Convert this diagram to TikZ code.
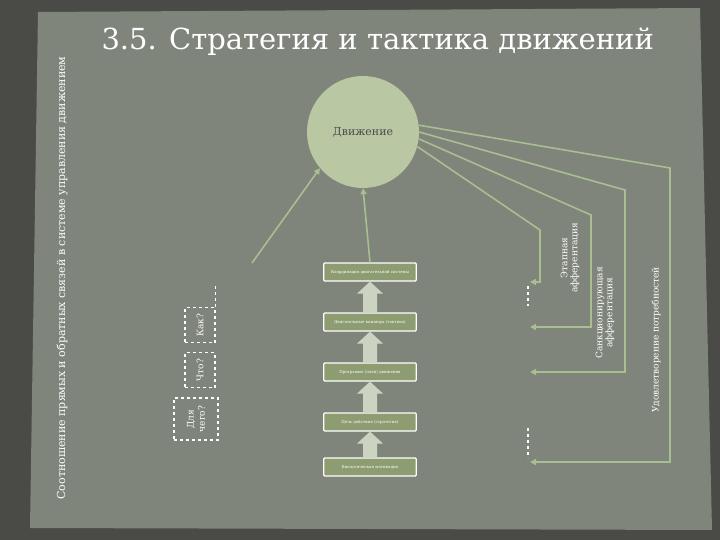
\documentclass[tikz,border=0pt]{standalone}
\usepackage{fontspec}
\setmainfont{DejaVu Serif}
\usetikzlibrary{arrows.meta,calc}
\definecolor{bgd}{HTML}{4A4B47}
\definecolor{pan}{HTML}{80857C}
\definecolor{cir}{HTML}{B9C7A3}
\definecolor{lin}{HTML}{A9BE91}
\definecolor{boxf}{HTML}{8E9C72}
\definecolor{arw}{HTML}{CBD4C0}
\tikzset{
 bx/.style={draw=white,line width=1.2pt,fill=boxf,rounded corners=1pt,minimum width=90pt,minimum height=18pt,text width=86pt,align=center,font=\fontsize{4}{4.5}\selectfont,text=white},
 db/.style={draw=white,dashed,line width=1.3pt,minimum width=30pt,align=center,text=white,font=\fontsize{9}{10}\selectfont},
 fbl/.style={lin,line width=1.6pt,-{Triangle[width=6pt,length=6pt]}}
}
\newcommand{\blockar}[2]{\fill[arw] ($(#1.north)+(-7,0)$) -- ($(#2.south)+(-7,12)$) -- ($(#2.south)+(-13,12)$) -- (#2.south) -- ($(#2.south)+(13,12)$) -- ($(#2.south)+(7,12)$) -- ($(#1.north)+(7,0)$) -- cycle;}
\begin{document}
\begin{tikzpicture}[x=1pt,y=-1pt]
\useasboundingbox (0,0) rectangle (720,540);
\fill[bgd] (0,0) rectangle (720,540);
\fill[pan] (38,12) -- (700,8) -- (712,530) -- (30,528) -- cycle;
\node[text=white,font=\fontsize{29}{31}\selectfont,anchor=west] (title) at (98,42) {3.5. Стратегия и тактика движений};
\node[text=white,rotate=90,font=\fontsize{11}{13}\selectfont] (side) at (62,278) {Соотношение прямых и обратных связей в системе управления движением};
\node[circle,fill=cir,minimum size=112pt,inner sep=0pt,text=black!70,font=\fontsize{11}{12}\selectfont] (mv) at (363,132) {Движение};
\node[bx] (b1) at (370,272) {Координация двигательной системы};
\node[bx] (b2) at (370,322) {Двигательные команды (тактика)};
\node[bx] (b3) at (370,372) {Программа (план) движения};
\node[bx] (b4) at (370,422) {Цель действия (стратегия)};
\node[bx] (b5) at (370,467) {Биологическая мотивация};
\blockar{b2}{b1}
\blockar{b3}{b2}
\blockar{b4}{b3}
\blockar{b5}{b4}
\draw[fbl] (b1.north) -- (mv.south);
\coordinate (s0) at (252,263);
\draw[fbl] (s0) -- (mv.220);
\node[db,minimum height=35pt] (q1) at (200,325) {\rotatebox{90}{Как?}};
\node[db,minimum height=35pt] (q2) at (200,370) {\rotatebox{90}{Что?}};
\node[db,minimum height=42pt,minimum width=44pt] (q3) at (196,419) {\rotatebox{90}{\shortstack{Для\\чего?}}};
\draw[white,dashed,line width=1.3pt] (q1.north east) -- ++(0,-22);
\coordinate (c1) at (540,230); \coordinate (e1) at (530,282);
\coordinate (c2) at (591,215); \coordinate (e2) at (530,327);
\coordinate (c3) at (625,190); \coordinate (e3) at (530,372);
\coordinate (c4) at (670,168); \coordinate (e4) at (530,462);
\draw[fbl] (mv.-15) -- (c1) |- (e1);
\draw[fbl] (mv.-7) -- (c2) |- (e2);
\draw[fbl] (mv.0) -- (c3) |- (e3);
\draw[fbl] (mv.7) -- (c4) |- (e4);
\coordinate (d1) at (528,286); \coordinate (d2) at (528,428);
\draw[white,dashed,line width=1.3pt] (d1) -- ++(0,20);
\draw[white,dashed,line width=1.3pt] (d2) -- ++(0,30);
\node[text=white,rotate=90,align=center,font=\fontsize{9}{10}\selectfont] (t1) at (570,258) {Этапная\\афферентация};
\node[text=white,rotate=90,align=center,font=\fontsize{9}{10}\selectfont] (t2) at (605,313) {Санкционирующая\\афферентация};
\node[text=white,rotate=90,font=\fontsize{9}{10}\selectfont] (t3) at (656,340) {Удовлетворение потребностей};
\end{tikzpicture}
\end{document}
